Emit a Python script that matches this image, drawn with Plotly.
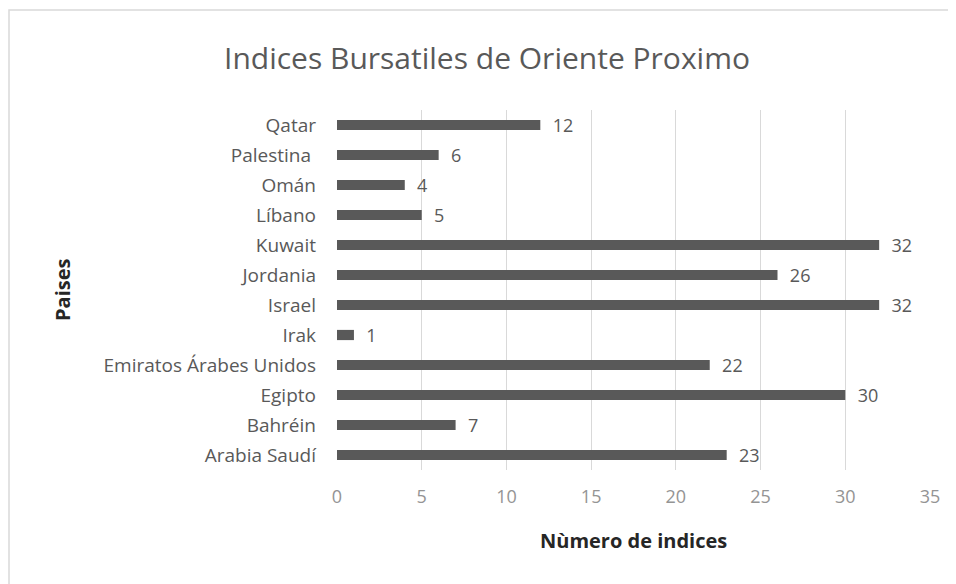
import plotly.graph_objects as go

# datos (de abajo hacia arriba, como en el gráfico original)
paises = ["Arabia Saudí", "Bahréin", "Egipto", "Emiratos Árabes Unidos", "Irak",
          "Israel", "Jordania", "Kuwait", "Líbano", "Omán", "Palestina ", "Qatar"]
num_indices = [23, 7, 30, 22, 1, 32, 26, 32, 5, 4, 6, 12]
x_ticks = [0, 5, 10, 15, 20, 25, 30, 35]

GRIS = "#595959"
FONT = "Open Sans"

# la página deja 8 px de margen en body -> márgenes compensados
W, H = 948, 576
L, R, T, B = 329, 26, 102, 114
PW = W - L - R
PH = H - T - B

fig = go.Figure()
fig.add_trace(go.Bar(
    y=paises, x=num_indices, orientation="h", width=0.34,
    marker=dict(color=GRIS, line=dict(width=0)),
    text=num_indices, texttemplate="  %{x}", textposition="outside",
    constraintext="none",
    textfont=dict(family=FONT, size=18, color=GRIS),
    cliponaxis=False, showlegend=False,
))

fig.update_layout(
    width=W, height=H,
    margin=dict(l=L, r=R, t=T, b=B),
    paper_bgcolor="white", plot_bgcolor="white",
    title=dict(text="Indices Bursatiles de Oriente Proximo", x=479 / W, xanchor="center",
               y=1 - 50 / H, yanchor="middle", yref="container",
               font=dict(family=FONT, size=30, color=GRIS)),
    xaxis=dict(range=[0, 35], tickvals=x_ticks, showgrid=True, gridcolor="#d9d9d9",
               gridwidth=1, zeroline=False, showline=False, ticks="",
               tickfont=dict(family=FONT, size=18, color="#949494"), ticklabelstandoff=14),
    yaxis=dict(showgrid=False, zeroline=False, showline=False, ticks="",
               tickfont=dict(family=FONT, size=19, color=GRIS), ticklabelstandoff=20),
    bargap=0.66,
)

# títulos de ejes
fig.add_annotation(text="<b>Paises</b>", x=(54 - L) / PW, y=0.5, xref="paper", yref="paper",
                   xanchor="center", yanchor="middle", textangle=-90, showarrow=False,
                   font=dict(family=FONT, size=20, color="#262626"))
fig.add_annotation(text="<b>Nùmero de indices</b>", x=0.5, y=-70 / PH, xref="paper", yref="paper",
                   xanchor="center", yanchor="middle",
                   showarrow=False, font=dict(family=FONT, size=20, color="#262626"))

# borde del área del gráfico (continúa fuera de la imagen a la derecha y abajo)
fig.add_shape(type="rect", xref="paper", yref="paper",
              x0=(1 - L) / PW, x1=(W + 40 - L) / PW, y0=-(B + 20) / PH, y1=1 + (T - 2) / PH,
              line=dict(color="#d9d9d9", width=1.5), layer="below")

fig.write_html("out.html")
